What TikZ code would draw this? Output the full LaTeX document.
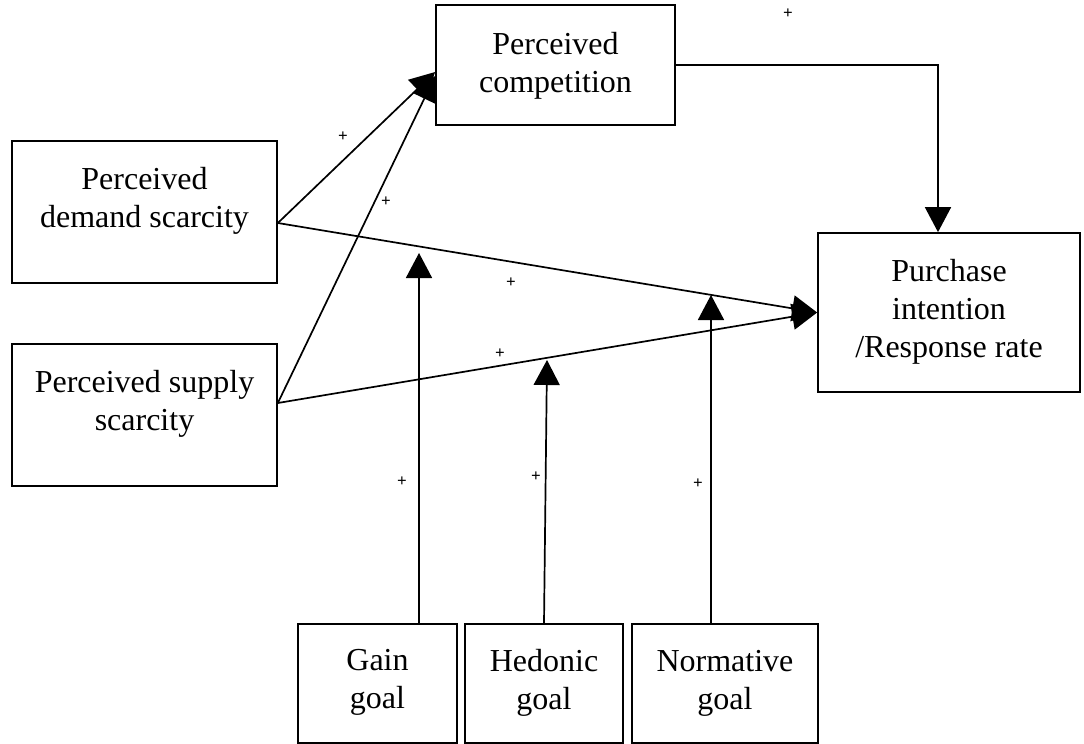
\documentclass[tikz,border=0pt]{standalone}
\usepackage{fontspec}
\setmainfont{Liberation Serif}
\usetikzlibrary{arrows.meta}
\begin{document}
\begin{tikzpicture}[x=1pt,y=-1pt,
  box/.style={draw,line width=1.7pt,inner sep=0pt},
  txt/.style={anchor=north,inner sep=0pt,align=center,font=\fontsize{32}{38}\selectfont},
  con/.style={line width=1.7pt},
  arr/.style={con,-{Triangle[length=25pt,width=26pt]}},
  pl/.style={font=\fontsize{17}{17}\selectfont\bfseries,inner sep=0pt}]
\useasboundingbox (0,0) rectangle (1084,744);
% boxes
\node[box,minimum width=265pt,minimum height=142pt] (dem) at (144.5,212) {};
\node[box,minimum width=265pt,minimum height=142pt] (sup) at (144.5,415) {};
\node[box,minimum width=239pt,minimum height=120pt] (comp) at (555.5,65) {};
\node[box,minimum width=262pt,minimum height=159pt] (pur) at (949,312.5) {};
\node[box,minimum width=159pt,minimum height=119pt] (gain) at (377.5,683.5) {};
\node[box,minimum width=158pt,minimum height=119pt] (hed) at (544,683.5) {};
\node[box,minimum width=186pt,minimum height=119pt] (norm) at (725,683.5) {};
% texts
\node[txt] (demT) at ([yshift=-27pt]dem.north) {Perceived\\demand scarcity};
\node[txt] (supT) at ([yshift=-27pt]sup.north) {Perceived supply\\scarcity};
\node[txt] (compT) at ([yshift=-28pt]comp.north) {Perceived\\competition};
\node[txt] (purT) at ([yshift=-27pt]pur.north) {Purchase\\intention\\/Response rate};
\node[txt] (gainT) at ([yshift=-26pt]gain.north) {Gain\\goal};
\node[txt] (hedT) at ([yshift=-26pt]hed.north) {Hedonic\\goal};
\node[txt] (normT) at ([yshift=-27pt]norm.north) {Normative\\goal};
% connectors
\coordinate (dOut) at ([yshift=-11pt]dem.east);
\coordinate (sOut) at ([yshift=12pt]sup.east);
\coordinate (cIn1) at ([yshift=-7pt]comp.west);
\coordinate (cIn2) at ([yshift=-11pt]comp.west);
\draw[arr] (dOut) -- (cIn1);
\draw[arr] (sOut) -- (cIn2);
\draw[arr] (dOut) -- (pur.west);
\draw[arr] (sOut) -- (pur.west);
\draw[arr] (comp.east) -| ([xshift=-11pt]pur.north);
\coordinate (gT) at (419,253);
\coordinate (hT) at (547,360);
\coordinate (nT) at (711,295);
\draw[arr] (gain.north -| gT) -- (gT);
\draw[arr] (hed.north) -- (hT);
\draw[arr] (norm.north -| nT) -- (nT);
% signs
\node[pl] (p1) at (343,137) {+};
\node[pl] (p2) at (386,202) {+};
\node[pl] (p3) at (511,283) {+};
\node[pl] (p4) at (500,354) {+};
\node[pl] (p5) at (788,14) {+};
\node[pl] (p6) at (402,482) {+};
\node[pl] (p7) at (536,477) {+};
\node[pl] (p8) at (698,484) {+};
\end{tikzpicture}
\end{document}
